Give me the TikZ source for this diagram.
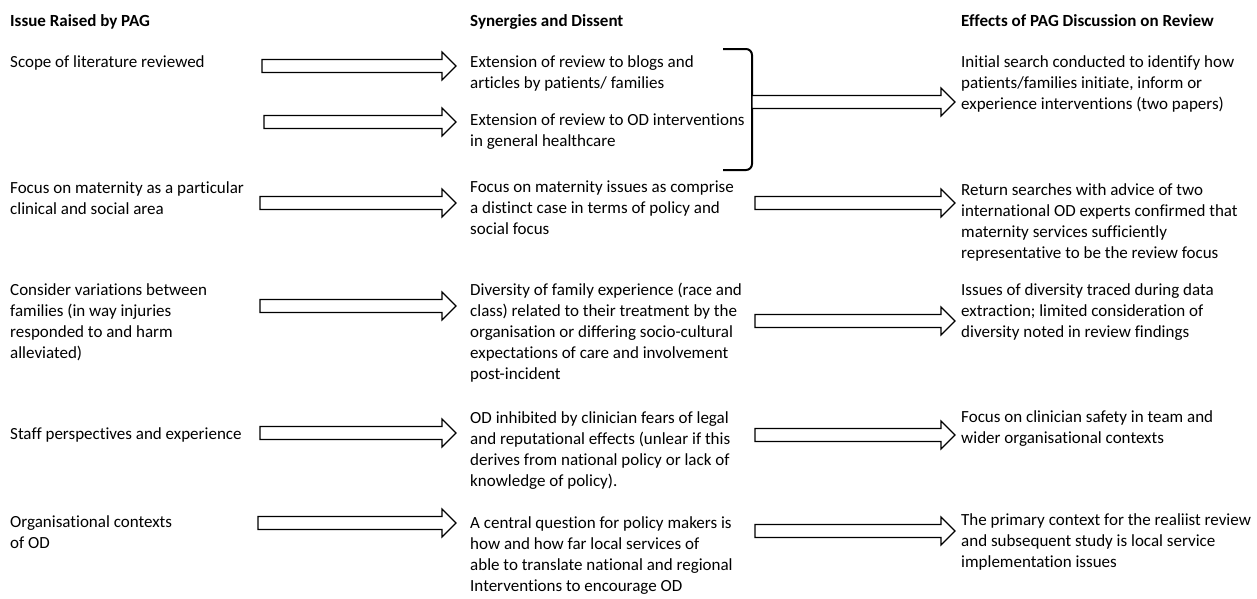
\documentclass[tikz,border=0pt]{standalone}
\usepackage{fontspec}
\setmainfont{Carlito}[Ligatures=NoCommon]
\usetikzlibrary{calc,positioning}
\tikzset{
  % --- text
  txt/.style  = {align=left, anchor=north west, inner xsep=0pt, inner ysep=0pt,
                 font=\fontsize{17}{21}\selectfont},
  head/.style = {txt, font=\fontsize{17}{21}\selectfont\bfseries},
  txtb/.style = {txt, inner xsep=14pt},
  txtc/.style = {txt, inner xsep=6pt},
  % --- connectors
  blk/.style  = {draw=black, line width=1.1pt, fill=white, line join=miter,
                 to path={let \p1=(\tikztostart), \p2=(\tikztotarget) in
                   (\x1,\y1+6.5pt) -- (\x2-14pt,\y1+6.5pt) -- (\x2-14pt,\y1+14pt)
                   -- (\x2,\y1) -- (\x2-14pt,\y1-14pt) -- (\x2-14pt,\y1-6.5pt)
                   -- (\x1,\y1-6.5pt) -- cycle}},
  brk/.style  = {draw=black, line width=2pt, rounded corners=6pt},
}
\begin{document}
\begin{tikzpicture}[x=1pt,y=-1pt]
  \useasboundingbox (0,0) rectangle (1257,598);
  % headers
  \node[head] (h1) at (10,14)  {Issue Raised by PAG};
  \node[head] (h2) at (470,14) {Synergies and Dissent};
  \node[head] (h3) at (961,14) {Effects of PAG Discussion on Review};
  % issues
  \node[txt] (i1) at (10,55)  {Scope of literature reviewed};
  \node[txt] (i2) at (10,181) {Focus on maternity as a particular\\clinical and social area};
  \node[txt] (i3) at (10,283) {Consider variations between\\families (in way injuries\\responded to and harm\\alleviated)};
  \node[txt] (i4) at (10,427) {Staff perspectives and experience};
  \node[txt] (i5) at (10,515) {Organisational contexts\\of OD};
  % synergies
  \node[txtb] (s1) at (456,55)  {Extension of review to blogs and\\articles by patients/ families};
  \node[txtb] (s2) at (456,114) {Extension of review to OD interventions\\in general healthcare};
  \node[txtb] (s3) at (456,181) {Focus on maternity issues as comprise\\a distinct case in terms of policy and\\social focus};
  \node[txtb] (s4) at (456,283) {Diversity of family experience (race and\\class) related to their treatment by the\\organisation or differing socio-cultural\\expectations of care and involvement\\post-incident};
  \node[txtb] (s5) at (456,411) {OD inhibited by clinician fears of legal\\and reputational effects (unlear if this\\derives from national policy or lack of\\knowledge of policy).};
  \node[txtb] (s6) at (456,516) {A central question for policy makers is\\how and how far local services of\\able to translate national and regional\\Interventions to encourage OD};
  % effects
  \node[txtc] (e1) at (955,55)  {Initial search conducted to identify how\\patients/families initiate, inform or\\experience interventions (two papers)};
  \node[txtc] (e2) at (955,183) {Return searches with advice of two\\international OD experts confirmed that\\maternity services sufficiently\\representative to be the review focus};
  \node[txtc] (e3) at (955,283) {Issues of diversity traced during data\\extraction; limited consideration of\\diversity noted in review findings};
  \node[txtc] (e4) at (955,410) {Focus on clinician safety in team and\\wider  organisational contexts};
  \node[txtc] (e5) at (955,513) {The primary context for the realiist review\\and subsequent study is local service\\implementation issues};
  % free ends of the arrows
  \coordinate (a1) at (262,66);  \coordinate (a2) at (264,122);
  \coordinate (a3) at (260,203); \coordinate (a4) at (260,306);
  \coordinate (a5) at (260,433); \coordinate (a6) at (258,523);
  \coordinate (b2) at (755,203); \coordinate (b3) at (755,321);
  \coordinate (b4) at (755,435); \coordinate (b5) at (755,531);
  % bracket round the two extensions
  \coordinate (kt) at (723,49); \coordinate (kb) at (723,170);
  \coordinate (b1) at (752,102);
  \draw[brk] (kt) -- (752,49) -- (752,170) -- (kb);
  % arrows
  \draw[blk] (a1) to (s1.west |- a1);
  \draw[blk] (a2) to (s2.west |- a2);
  \draw[blk] (a3) to (s3.west |- a3);
  \draw[blk] (a4) to (s4.west |- a4);
  \draw[blk] (a5) to (s5.west |- a5);
  \draw[blk] (a6) to (s6.west |- a6);
  \draw[blk] (b1) to (e1.west |- b1);
  \draw[blk] (b2) to (e2.west |- b2);
  \draw[blk] (b3) to (e3.west |- b3);
  \draw[blk] (b4) to (e4.west |- b4);
  \draw[blk] (b5) to (e5.west |- b5);
\end{tikzpicture}
\end{document}
